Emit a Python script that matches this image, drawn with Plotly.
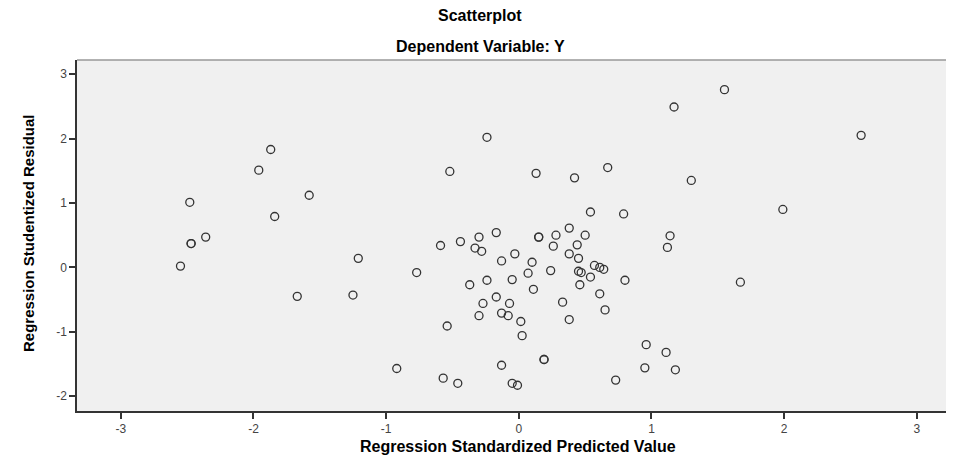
import plotly.graph_objects as go

# Regression Standardized Predicted Value (x) and Studentized Residual (y)
pred = [
    -2.55, -2.48, -2.47, -2.47, -2.36, -1.96, -1.87, -1.84, -1.58, -1.67,
    -1.21, -1.25, -0.77, -0.92,
    -0.24, -0.52, 0.13, 0.42, 0.67, 1.17, 1.55, 1.30, 2.58, 1.99, 0.54, 0.79,
    -0.59, -0.44, -0.30, -0.17, -0.33, -0.28, -0.13, -0.03, 0.15, 0.15,
    0.28, 0.26, 0.10, 0.07, 0.24, -0.05, -0.24, -0.37, 0.11, -0.17,
    -0.07, -0.27, -0.30, -0.13, -0.08, 0.015, -0.54, 0.025, 0.38, 0.50,
    1.14, 1.12, 0.44, 0.38, 0.45, 0.45, 0.47, 0.57, 0.61, 0.64,
    0.54, 0.80, 0.46, 0.61, 0.33, 0.65, 0.38, 1.67,
    0.96, 1.11, 0.95, 1.18, 0.73, 0.19, 0.19, -0.13, -0.57, -0.46, -0.05, -0.01,
]
resid = [
    0.02, 1.01, 0.37, 0.37, 0.47, 1.51, 1.83, 0.79, 1.12, -0.45,
    0.14, -0.43, -0.08, -1.57,
    2.02, 1.49, 1.46, 1.39, 1.55, 2.49, 2.76, 1.35, 2.05, 0.90, 0.86, 0.83,
    0.34, 0.40, 0.47, 0.54, 0.30, 0.25, 0.10, 0.21, 0.47, 0.47,
    0.50, 0.33, 0.08, -0.09, -0.05, -0.19, -0.20, -0.27, -0.34, -0.46,
    -0.56, -0.56, -0.75, -0.71, -0.75, -0.84, -0.91, -1.06, 0.61, 0.50,
    0.49, 0.31, 0.35, 0.21, 0.14, -0.06, -0.08, 0.03, 0.00, -0.03,
    -0.15, -0.20, -0.27, -0.41, -0.54, -0.66, -0.81, -0.23,
    -1.20, -1.32, -1.56, -1.59, -1.75, -1.43, -1.43, -1.52, -1.72, -1.80, -1.80, -1.83,
]

title_main = "Scatterplot"
title_sub = "Dependent Variable: Y"
x_title = "Regression Standardized Predicted Value"
y_title = "Regression Studentized Residual"
x_tick_vals = [-3, -2, -1, 0, 1, 2, 3]
x_tick_text = ["-3", "-2", "-1", "0", "1", "2", "3"]
y_tick_vals = [-2, -1, 0, 1, 2, 3]
y_tick_text = ["-2", "-1", "0", "1", "2", "3"]

FONT = "Liberation Sans, Arial, sans-serif"
NARROW = "Liberation Sans Narrow, Arial Narrow, Liberation Sans, Arial"

fig = go.Figure()
fig.add_trace(go.Scatter(
    x=pred, y=resid, mode="markers",
    marker=dict(symbol="circle-open", size=8, color="#333333",
                line=dict(width=1.3, color="#333333")),
    showlegend=False, hoverinfo="x+y",
))

axis_common = dict(showgrid=False, zeroline=False, showline=True,
                   linecolor="#333333", linewidth=1.5,
                   ticks="outside", ticklen=6, tickwidth=1.5, tickcolor="#333333",
                   tickfont=dict(size=12, color="#444444", family=FONT))

fig.update_layout(
    width=946, height=448,
    margin=dict(l=69, r=0, t=52, b=45),
    paper_bgcolor="white",
    plot_bgcolor="#F0F0F0",
    font=dict(family=FONT, color="#333333", size=12),
    xaxis=dict(range=[-3.33, 3.28], tickvals=x_tick_vals, ticktext=x_tick_text,
               **axis_common),
    yaxis=dict(range=[-2.23, 3.22], tickvals=y_tick_vals, ticktext=y_tick_text,
               **axis_common),
    shapes=[dict(type="line", xref="paper", yref="paper", x0=0, x1=1, y0=1, y1=1,
                 line=dict(color="#999999", width=1.5))],
    annotations=[
        dict(text="<b>%s</b>" % title_main, xref="paper", yref="paper",
             x=0.46, y=1, yshift=45, xanchor="center", yanchor="middle",
             showarrow=False, font=dict(size=16, color="black", family=FONT)),
        dict(text="<b>%s</b>" % title_sub, xref="paper", yref="paper",
             x=0.46, y=1, yshift=14, xanchor="center", yanchor="middle",
             showarrow=False, font=dict(size=16, color="black", family=FONT)),
        dict(text="<b>%s</b>" % x_title, xref="paper", yref="paper",
             x=0.503, y=0, yshift=-35, xanchor="center", yanchor="middle",
             showarrow=False, font=dict(size=16, color="black", family=FONT)),
        dict(text="<b>%s</b>" % y_title, xref="paper", yref="paper",
             x=0, xshift=-49, y=0.507, textangle=-90, xanchor="center", yanchor="middle",
             showarrow=False, font=dict(size=15, color="black", family=NARROW)),
    ],
)

fig.write_html("out.html")
